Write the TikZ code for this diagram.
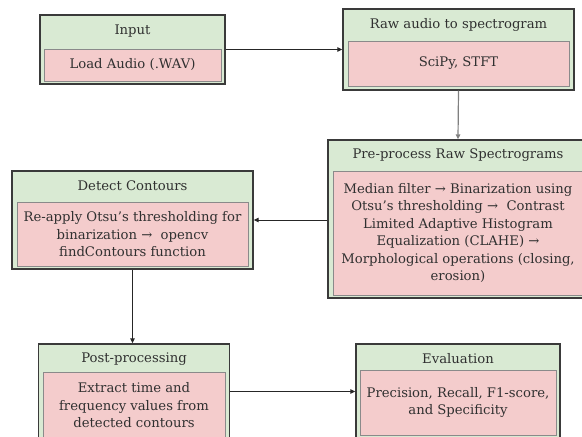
\documentclass[tikz,border=0pt]{standalone}
\usepackage{fontspec}
\setmainfont{DejaVu Serif}
\usetikzlibrary{arrows.meta}
\definecolor{boxgreen}{HTML}{D9EAD3}
\definecolor{boxpink}{HTML}{F4CCCC}
\definecolor{outerline}{HTML}{3A3A3A}
\definecolor{innerline}{HTML}{8A8A8A}
\definecolor{grayarrow}{HTML}{808080}
\definecolor{txt}{HTML}{303030}
\tikzset{
  outerbox/.style={draw=outerline, fill=boxgreen, line width=1.4pt, rectangle, inner sep=0pt},
  innerbox/.style={draw=innerline, fill=boxpink, line width=0.8pt, rectangle, inner sep=0pt, align=center,
    font=\fontsize{13.2}{17.5}\selectfont, text=txt},
  titletext/.style={font=\fontsize{13.2}{17.5}\selectfont, text=txt, inner sep=0pt},
  flow/.style={draw=black!85, line width=1pt, -{Triangle[length=5pt,width=4.5pt]}},
  grayflow/.style={draw=grayarrow, line width=1.2pt, -{Triangle[length=5pt,width=4.5pt]}}
}
\begin{document}
\begin{tikzpicture}[x=1pt,y=-1pt]
\useasboundingbox (0,0) rectangle (582,437);
% Input
\node[outerbox, minimum width=185pt, minimum height=69pt] (inp) at (132.5,49.5) {};
\node[titletext] (inpt) at (132.5,31) {Input};
\node[innerbox, minimum width=177pt, minimum height=32pt] (inpi) at (132.5,65) {Load Audio (.WAV)};
% Raw audio
\node[outerbox, minimum width=231pt, minimum height=81pt] (raw) at (458.5,49.5) {};
\node[titletext] (rawt) at (458.5,25) {Raw audio to spectrogram};
\node[innerbox, minimum width=221pt, minimum height=45pt] (rawi) at (458.5,63.5) {SciPy, STFT};
% Pre-process
\node[outerbox, minimum width=260pt, minimum height=158pt] (pre) at (458,219) {};
\node[titletext] (pret) at (458,155) {Pre-process Raw Spectrograms};
\node[innerbox, minimum width=250pt, minimum height=124pt] (prei) at (458,233) {Median filter → Binarization using\\Otsu’s thresholding → \ Contrast\\Limited Adaptive Histogram\\Equalization (CLAHE) →\\Morphological operations (closing,\\erosion)};
% Detect contours
\node[outerbox, minimum width=241pt, minimum height=98pt] (det) at (132.5,220) {};
\node[titletext] (dett) at (132.5,186) {Detect Contours};
\node[innerbox, minimum width=231pt, minimum height=64pt] (deti) at (132.5,234.5) {Re-apply Otsu’s thresholding for\\binarization → \ opencv\\findContours function};
% Post-processing
\node[outerbox, minimum width=191pt, minimum height=99pt] (post) at (134,393.5) {};
\node[titletext] (postt) at (134,359) {Post-processing};
\node[innerbox, minimum width=182pt, minimum height=67pt] (posti) at (134,405.5) {Extract time and\\frequency values from\\detected contours};
% Evaluation
\node[outerbox, minimum width=204pt, minimum height=95pt] (eval) at (458,391.5) {};
\node[titletext] (evalt) at (458,359) {Evaluation};
\node[innerbox, minimum width=196pt, minimum height=65pt] (evali) at (458,402.5) {Precision, Recall, F1-score,\\and Specificity};
% Connectors
\draw[flow] (inp.east) -- (raw.west);
\draw[grayflow] (raw.south) -- (pre.north);
\draw[flow] (pre.west |- det.east) -- (det.east);
\draw[flow] (det.south) -- (det.south |- post.north);
\draw[flow] (post.east |- eval.west) -- (eval.west);
\end{tikzpicture}
\end{document}
